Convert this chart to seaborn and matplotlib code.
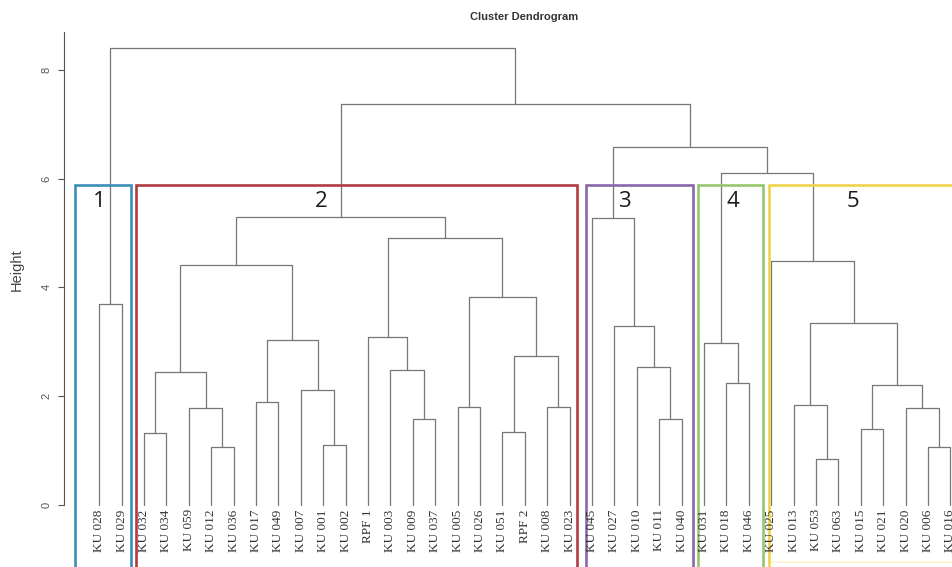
import numpy as np
import pandas as pd
import matplotlib
matplotlib.use("Agg")
import matplotlib.pyplot as plt
import seaborn as sns

# ================= DATA =================
leaf_labels = [
    "KU 028", "KU 029", "KU 032", "KU 034", "KU 059", "KU 012", "KU 036",
    "KU 017", "KU 049", "KU 007", "KU 001", "KU 002", "RPF 1", "KU 003",
    "KU 009", "KU 037", "KU 005", "KU 026", "KU 051", "RPF 2", "KU 008",
    "KU 023", "KU 045", "KU 027", "KU 010", "KU 011", "KU 040", "KU 031",
    "KU 018", "KU 046", "KU 025", "KU 013", "KU 053", "KU 063", "KU 015",
    "KU 021", "KU 020", "KU 006", "KU 016",
]

# hclust-style merges: negative = leaf (1-based), positive = earlier merge row (1-based)
merge_left = [-1, -3, -6, -5, 2, -8, -11, -10, 6, 5,
              -15, -14, -13, -17, -19, -21, 15, 14, 13, 10,
              -26, -25, -24, -23, -29, -28, -33, -32, -35, -38,
              -37, 29, 28, -31, 26, 24, 20, 1]
merge_right = [-2, -4, -7, 3, 4, -9, -12, 7, 8, 9,
               -16, 11, 12, -18, -20, -22, 16, 17, 18, 19,
               -27, 21, 22, 23, -30, 25, -34, 27, -36, -39,
               30, 31, 32, 33, 34, 35, 36, 37]
merge_height = [3.70, 1.33, 1.07, 1.79, 2.44, 1.89, 1.10, 2.11, 3.03, 4.41,
                1.58, 2.49, 3.08, 1.81, 1.35, 1.81, 2.74, 3.82, 4.90, 5.29,
                1.58, 2.54, 3.29, 5.27, 2.24, 2.97, 0.84, 1.83, 1.40, 1.06,
                1.79, 2.21, 3.35, 4.49, 6.10, 6.59, 7.37, 8.40]

cluster_names = ["1", "2", "3", "4", "5"]
cluster_colors = ["#3d8eb9", "#b23b40", "#8a67ab", "#96c66c", "#f0d24c"]
box_left = [-0.08, 2.64, 22.73, 27.75, 30.9]
box_right = [2.42, 22.35, 27.5, 30.62, 40.5]
box_top = 5.88
name_x = [0.99, 10.93, 24.43, 29.28, 34.64]

# ================= DENDROGRAM SEGMENTS =================
node_x = []
rows = []


def node_pos(ref):
    if ref < 0:
        return float(-ref), 0.0
    return node_x[ref - 1], merge_height[ref - 1]


for k, (a, b, h) in enumerate(zip(merge_left, merge_right, merge_height)):
    xa, ya = node_pos(a)
    xb, yb = node_pos(b)
    for x, y in [(xa, ya), (xa, h), (xb, h), (xb, yb)]:
        rows.append({"seg": k, "x": x, "y": y})
    node_x.append((xa + xb) / 2)

df = pd.DataFrame(rows)

# ================= PLOT =================
sns.set_theme(style="white")
plt.rcParams["font.family"] = ["Liberation Sans", "DejaVu Sans"]

fig = plt.figure(figsize=(9.52, 5.67), dpi=100)
ax = fig.add_axes([64 / 952, 0, 1 - 64 / 952, 1])

sns.lineplot(data=df, x="x", y="y", units="seg", estimator=None, sort=False,
             color="#777777", lw=0.9, legend=False, ax=ax)

# cluster boxes
for name, col, l, r, nx in zip(cluster_names, cluster_colors, box_left, box_right, name_x):
    ax.plot([l, l, r, r], [-1.6, box_top, box_top, -1.6], color=col, lw=1.9,
            solid_joinstyle="miter")
    ax.text(nx, 5.57, name, ha="center", va="center", fontsize=16,
            color="#1a1a1a", family=["Open Sans", "DejaVu Sans"])
ax.plot([box_left[4], box_right[4]], [-1.05, -1.05], color=cluster_colors[4],
        lw=1.2, alpha=0.25)

# leaf labels
for i, lab in enumerate(leaf_labels, start=1):
    ax.text(i, -0.08, lab, rotation=90, ha="center", va="top", fontsize=9.5,
            color="#333333", family=["Liberation Serif", "DejaVu Serif"])

ax.set_xlim(1 + (64 - 99.2) / 22.4, 1 + (952 - 99.2) / 22.4)
ax.set_ylim((505 - 567) / 54.4, 505 / 54.4)
ax.set_xticks([])
ax.set_yticks([0, 2, 4, 6, 8])
ax.set_yticklabels(["0", "2", "4", "6", "8"], rotation=90, va="center",
                   fontsize=8, color="#555555")
ax.tick_params(axis="y", left=True, length=4, width=0.8, color="#555555", pad=5)
ax.set_xlabel("")
ax.set_ylabel("")
for s in ["top", "right", "bottom"]:
    ax.spines[s].set_visible(False)
ax.spines["left"].set_bounds(0, 8.7)
ax.spines["left"].set_color("#555555")
ax.spines["left"].set_linewidth(0.8)
ax.patch.set_alpha(0)

fig.text(524 / 952, 1 - 17 / 567, "Cluster Dendrogram", ha="center", va="center",
         fontsize=8, fontweight="bold", color="#333333",
         family=["Liberation Sans Narrow", "Liberation Sans"])
fig.text(17 / 952, 1 - 270 / 567, "Height", rotation=90, ha="center", va="center",
         fontsize=10.5, color="#444444")

fig.savefig("out.png", dpi=100)
plt.close(fig)
